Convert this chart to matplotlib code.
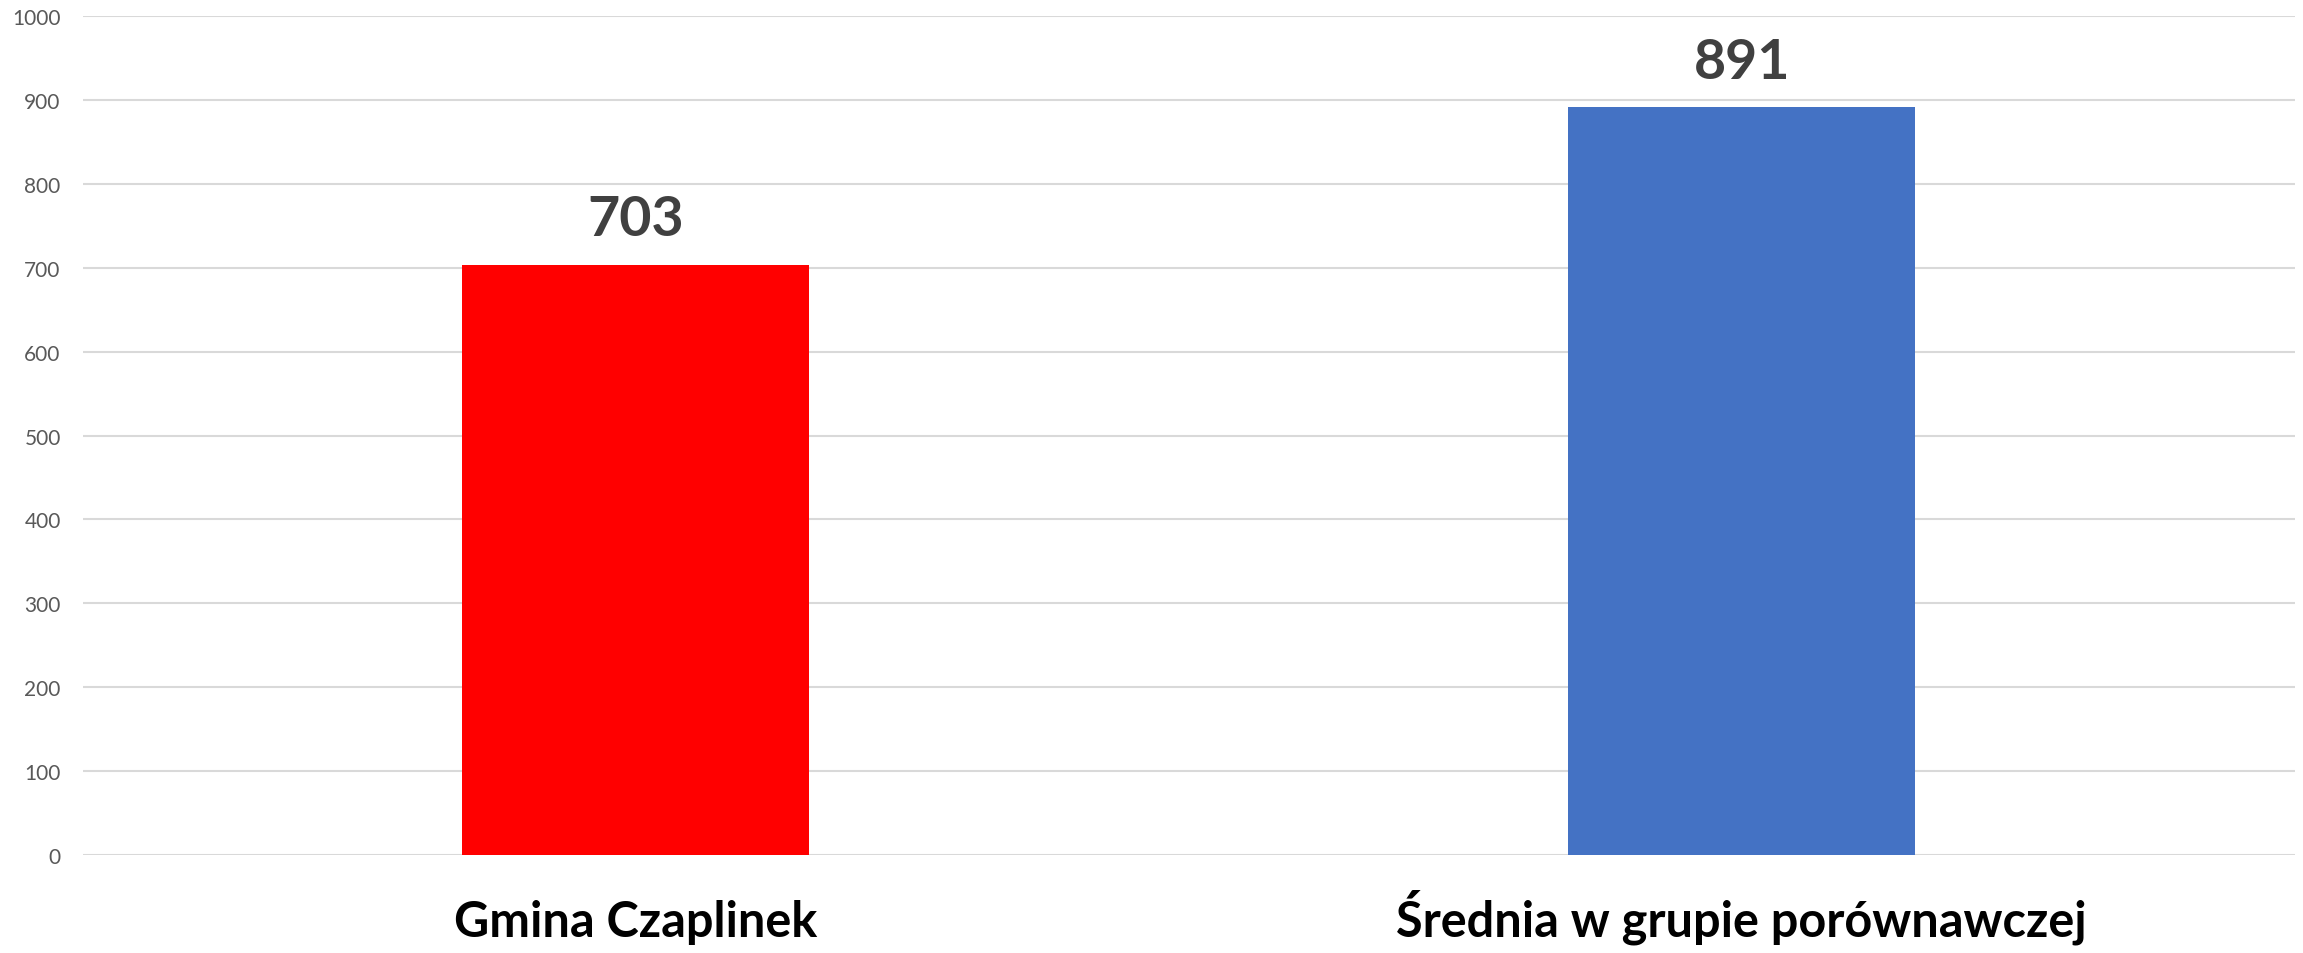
import matplotlib
matplotlib.use("Agg")
import matplotlib.pyplot as plt

plt.rcParams.update({
    'font.family': ['Lato', 'DejaVu Sans'],
    'axes.spines.top': False,
    'axes.spines.right': False,
    'axes.spines.left': False,
    'axes.spines.bottom': False,
})

# Data
categories = ['Gmina Czaplinek', 'Średnia w grupie porównawczej']
values = [703, 891]
bar_colors = ['#FF0000', '#4472C4']
y_ticks = list(range(0, 1001, 100))

fig = plt.figure(figsize=(23.03, 9.54), dpi=100)
ax = fig.add_axes([0.036, 0.1027, 0.9604, 0.8795])

x = list(range(len(categories)))
bars = ax.bar(x, values, width=0.314, color=bar_colors, zorder=3)

# Value labels above bars
for rect, v in zip(bars, values):
    ax.annotate(f"{v}", (rect.get_x() + rect.get_width() / 2, v),
                xytext=(0, 15), textcoords='offset points',
                ha='center', va='bottom', fontsize=40, fontweight='bold',
                color='#404040')

ax.set_xlim(-0.5, 1.5)
ax.set_ylim(0, 1000)
ax.set_yticks(y_ticks)
ax.set_xticks(x)
ax.set_xticklabels(categories, fontsize=35, fontweight='bold', color='black')
for lbl in ax.get_xticklabels():
    lbl.set_va('baseline')
ax.tick_params(axis='x', length=0, pad=58)
ax.tick_params(axis='y', length=0, pad=16, labelsize=15, labelcolor='#595959')

ax.grid(True, axis='y', color='#D9D9D9', linewidth=1.5, zorder=0)
ax.grid(False, axis='x')
ax.set_axisbelow(True)

fig.savefig('out.png', dpi=100, facecolor='white')
